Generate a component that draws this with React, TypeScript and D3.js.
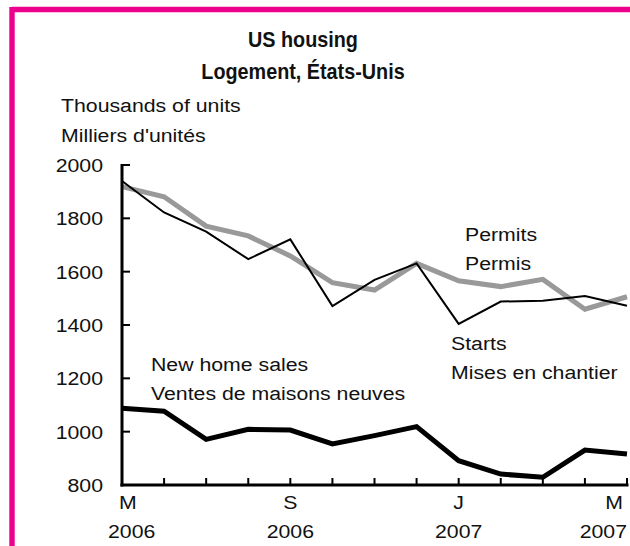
import React from "react";
import * as d3 from "d3";

const months = [
  "2006-05", "2006-06", "2006-07", "2006-08", "2006-09", "2006-10", "2006-11",
  "2006-12", "2007-01", "2007-02", "2007-03", "2007-04", "2007-05",
];
const starts = [1940, 1822, 1750, 1647, 1721, 1471, 1569, 1631, 1404, 1488, 1491, 1509, 1472];
const permits = [1919, 1881, 1771, 1734, 1659, 1559, 1531, 1631, 1566, 1544, 1571, 1459, 1506];
const sales = [1088, 1077, 971, 1009, 1006, 954, 985, 1019, 891, 841, 829, 931, 916];
const yTicks = [800, 1000, 1200, 1400, 1600, 1800, 2000];
const xLabelMonths = ["2006-05", "2006-09", "2007-01", "2007-05"];
const xLabelTop = ["M", "S", "J", "M"];
const xLabelBottom = ["2006", "2006", "2007", "2007"];

const W = 630;
const H = 546;
const FONT = "'Liberation Sans', Arial, Helvetica, sans-serif";
const FS = 19;
const SX = 1.12;
const MAGENTA = "#ec008c";

// approximate widths (Arial metrics) for clamping labels
const charW: Record<string, number> = { M: 0.833, S: 0.667, J: 0.5 };
const textW = (s: string) =>
  s.split("").reduce((a, c) => a + (charW[c] ?? 0.556), 0) * FS * SX;

function Txt({ x, y, anchor = "start", children }: { x: number; y: number; anchor?: string; children: React.ReactNode }) {
  return (
    <g transform={`translate(${x},${y}) scale(${SX},1)`}>
      <text x={0} y={0} textAnchor={anchor} fontFamily={FONT} fontSize={FS} fill="#111">
        {children}
      </text>
    </g>
  );
}

function Title({ x, y, children }: { x: number; y: number; children: React.ReactNode }) {
  return (
    <g transform={`translate(${x},${y}) scale(0.9,1)`}>
      <text x={0} y={0} textAnchor="middle" fontFamily={FONT} fontSize={22} fontWeight="bold" fill="#111">
        {children}
      </text>
    </g>
  );
}

export default function App() {
  const x = d3.scalePoint<string>().domain(months).range([122, 627]);
  const y = d3.scaleLinear().domain([800, 2000]).range([485, 165]);
  const line = d3
    .line<number>()
    .x((_, i) => x(months[i]) as number)
    .y((d) => y(d));

  const x0 = x(months[0]) as number;
  const x1 = x(months[months.length - 1]) as number;
  const clamp = (c: number, w: number, lo: number, hi: number) =>
    Math.min(Math.max(c, lo + w / 2), hi - w / 2);

  return (
    <svg width={W} height={H} style={{ position: "absolute", left: 0, top: 0, background: "#fff" }}>
      <rect x={0} y={0} width={W} height={H} fill="#fff" />
      {/* frame */}
      <line x1={12} y1={9.5} x2={W} y2={9.5} stroke={MAGENTA} strokeWidth={5.4} />
      <line x1={12} y1={7} x2={12} y2={H} stroke={MAGENTA} strokeWidth={5.4} />

      {/* title */}
      <Title x={303} y={46.7}>US housing</Title>
      <Title x={303} y={79}>Logement, États-Unis</Title>

      {/* unit */}
      <Txt x={61} y={111.5}>Thousands of units</Txt>
      <Txt x={61} y={141.5}>Milliers d'unités</Txt>

      {/* series */}
      <path d={line(permits) ?? ""} fill="none" stroke="#999999" strokeWidth={5} strokeLinejoin="miter" />
      <path d={line(sales) ?? ""} fill="none" stroke="#000" strokeWidth={5} strokeLinejoin="miter" />
      <path d={line(starts) ?? ""} fill="none" stroke="#000" strokeWidth={2} strokeLinejoin="miter" />

      {/* axes */}
      <line x1={x0} y1={y(2000) - 1} x2={x0} y2={y(800) + 1.5} stroke="#000" strokeWidth={3} />
      <line x1={x0 - 1.5} y1={y(800)} x2={x1 + 1.5} y2={y(800)} stroke="#000" strokeWidth={3} />
      {yTicks.map((t) => (
        <g key={t}>
          <line x1={x0} y1={y(t)} x2={x0 + 8} y2={y(t)} stroke="#000" strokeWidth={2} />
          <Txt x={103} y={y(t) + 7} anchor="end">{t}</Txt>
        </g>
      ))}
      {months.slice(1).map((m) => (
        <line key={m} x1={x(m) as number} y1={y(800)} x2={x(m) as number} y2={y(800) - 7} stroke="#000" strokeWidth={2} />
      ))}
      {xLabelMonths.map((m, i) => {
        const cx = x(m) as number;
        return (
          <g key={m}>
            <Txt x={clamp(cx, textW(xLabelTop[i]), 119, 623)} y={508.5} anchor="middle">
              {xLabelTop[i]}
            </Txt>
            <Txt x={clamp(cx, textW(xLabelBottom[i]), 108, 627)} y={537.5} anchor="middle">
              {xLabelBottom[i]}
            </Txt>
          </g>
        );
      })}

      {/* annotations */}
      <Txt x={465} y={240.5}>Permits</Txt>
      <Txt x={465} y={269.5}>Permis</Txt>
      <Txt x={451} y={350}>Starts</Txt>
      <Txt x={451} y={379}>Mises en chantier</Txt>
      <Txt x={151} y={370.5}>New home sales</Txt>
      <Txt x={151} y={400}>Ventes de maisons neuves</Txt>
    </svg>
  );
}
